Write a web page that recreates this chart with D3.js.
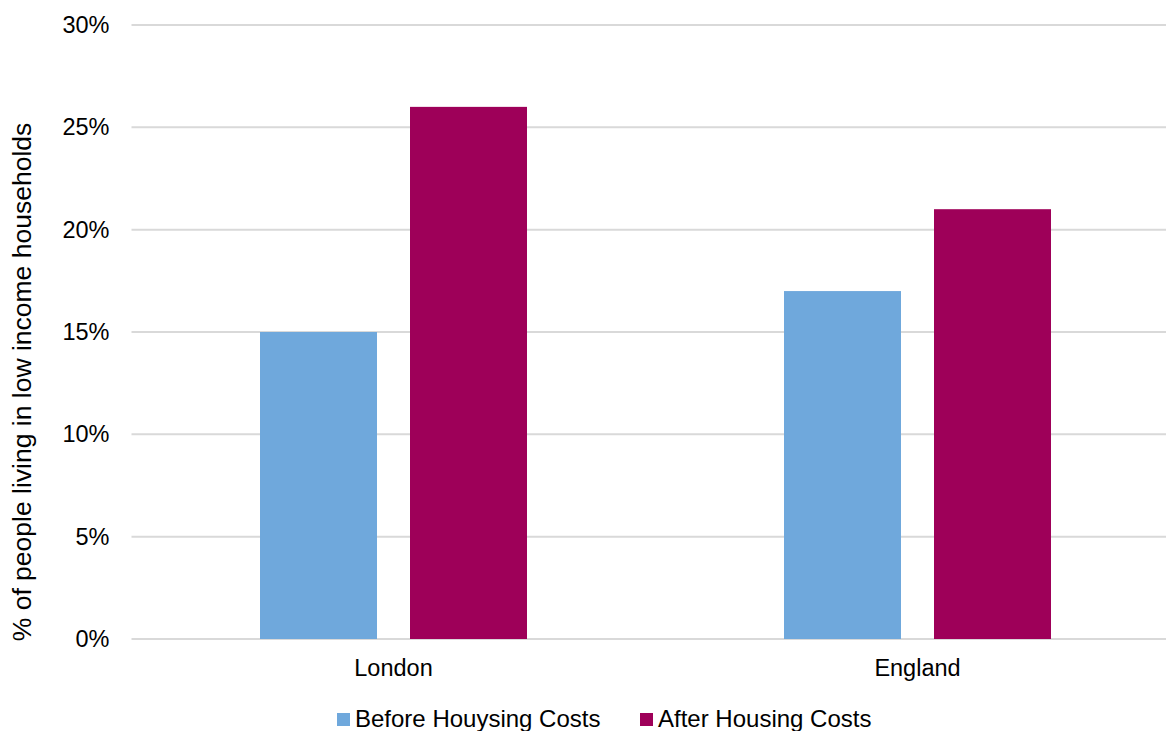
<!DOCTYPE html>
<html>
<head>
<meta charset="utf-8">
<script src="https://cdn.jsdelivr.net/npm/d3@7"></script>
<style>
  body { margin: 0; background: #fff; }
  svg { display: block; font-family: "Liberation Sans", Arial, sans-serif; }
</style>
</head>
<body>
<div id="div_chart"></div>
<script>
// Data
var categories = ["London", "England"];
var seriesNames = ["Before Houysing Costs", "After Housing Costs"];
var beforeValues = [0.15, 0.17];
var afterValues = [0.26, 0.21];
var yTicks = [0, 0.05, 0.10, 0.15, 0.20, 0.25, 0.30];
var colors = ["#6fa8dc", "#9e0059"];

var data = categories.map(function (c, i) {
    return {Category: c, values: [beforeValues[i], afterValues[i]]};
});

// Set the dimensions of the svg
var svgWidth = 1166;
var svgHeight = 731;
var plotLeft = 131.5, plotRight = 1179.5, plotTop = 25, plotBottom = 639;

var svg = d3.select("#div_chart")
    .append("svg")
        .attr("width", svgWidth)
        .attr("height", svgHeight);

// Scales
var y = d3.scaleLinear()
    .domain([0, 0.30])
    .range([plotBottom, plotTop]);

var x = d3.scaleBand()
    .domain(categories)
    .range([plotLeft, plotRight]);

var band = x.bandwidth();
var xSub = d3.scaleBand()
    .domain([0, 1])
    .range([band / 2 - 133.5, band / 2 + 133.5])
    .paddingInner(0.22);

// Gridlines
svg.append("g")
    .selectAll("line")
    .data(yTicks)
    .enter()
    .append("line")
        .attr("x1", plotLeft)
        .attr("x2", svgWidth)
        .attr("y1", d => y(d))
        .attr("y2", d => y(d))
        .attr("stroke", "#d9d9d9")
        .attr("stroke-width", 2);

// Y axis labels
var yAxis = svg.append("g")
    .attr("transform", "translate(" + plotLeft + ",0)")
    .call(d3.axisLeft(y).tickValues(yTicks).tickFormat(d3.format(".0%")).tickSize(0).tickPadding(22));
yAxis.select(".domain").remove();
yAxis.selectAll("text")
    .attr("font-size", 23.5)
    .attr("font-family", "Liberation Sans, Arial, sans-serif")
    .attr("fill", "#000");

// X axis labels
var xAxis = svg.append("g")
    .attr("transform", "translate(0," + plotBottom + ")")
    .call(d3.axisBottom(x).tickSize(0).tickPadding(20));
xAxis.select(".domain").remove();
xAxis.selectAll("text")
    .attr("font-size", 23.5)
    .attr("font-family", "Liberation Sans, Arial, sans-serif")
    .attr("fill", "#000");

// Bars
var groups = svg.selectAll("barGroup")
    .data(data)
    .enter()
    .append("g")
        .attr("transform", d => "translate(" + x(d.Category) + ",0)");

groups.selectAll("rect")
    .data(d => d.values)
    .enter()
    .append("rect")
        .attr("x", (d, i) => xSub(i))
        .attr("y", d => y(d))
        .attr("width", xSub.bandwidth())
        .attr("height", d => y(0) - y(d))
        .attr("fill", (d, i) => colors[i]);

// Y axis title
svg.append("text")
    .attr("transform", "translate(31," + ((plotTop + plotBottom) / 2 + 50) + ")rotate(-90)")
    .attr("text-anchor", "middle")
    .attr("font-size", 26.5)
    .attr("fill", "#000")
    .text("% of people living in low income households");

// Legend
var legendX = [337, 640];
var legend = svg.selectAll("legendItem")
    .data(seriesNames)
    .enter()
    .append("g")
        .attr("transform", (d, i) => "translate(" + legendX[i] + ",713)");
legend.append("rect")
    .attr("width", 13)
    .attr("height", 13)
    .attr("fill", (d, i) => colors[i]);
legend.append("text")
    .attr("x", 18)
    .attr("y", 14)
    .attr("font-size", 24)
    .attr("fill", "#000")
    .text(d => d);
</script>
</body>
</html>
